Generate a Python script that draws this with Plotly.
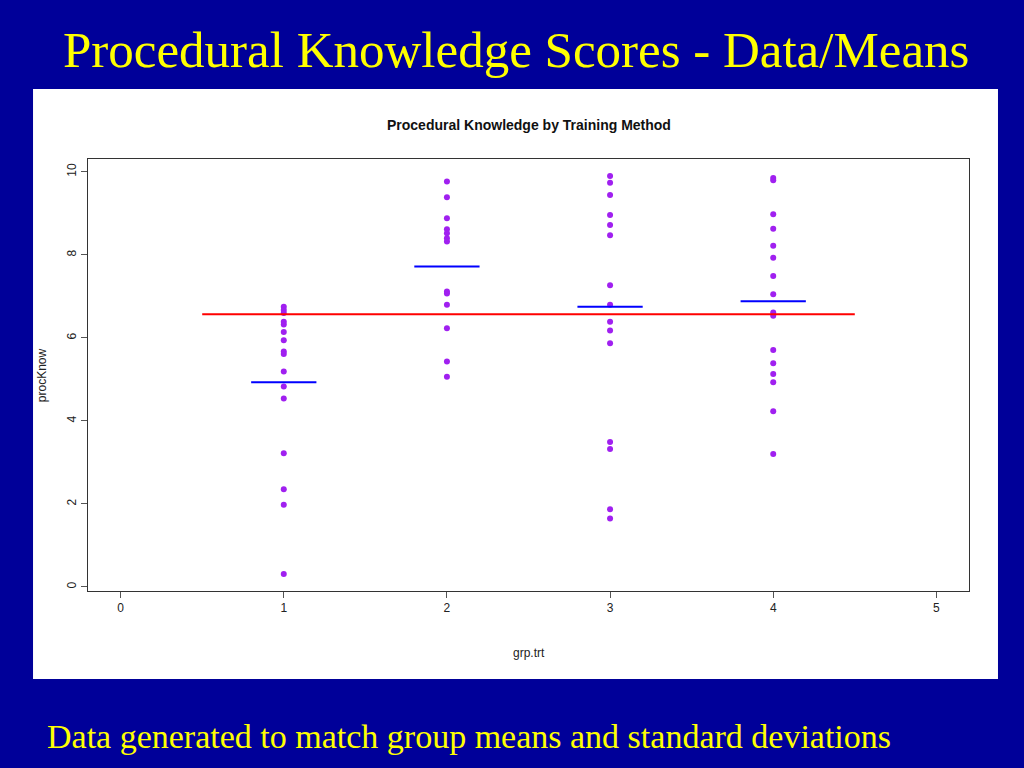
import plotly.graph_objects as go

# group scores
grp1 = [6.75, 6.67, 6.60, 6.39, 6.32, 6.14, 5.94, 5.67, 5.61, 5.19, 4.83, 4.54, 3.22, 2.35, 1.98, 0.31]
grp2 = [9.77, 9.39, 8.88, 8.62, 8.52, 8.40, 8.32, 7.12, 7.07, 6.80, 6.23, 5.43, 5.06]
grp3 = [9.90, 9.74, 9.44, 8.96, 8.72, 8.47, 7.27, 6.80, 6.39, 6.18, 5.87, 3.49, 3.32, 1.87, 1.65]
grp4 = [9.85, 9.80, 8.98, 8.63, 8.22, 7.93, 7.49, 7.05, 6.61, 6.53, 5.71, 5.39, 5.13, 4.93, 4.23, 3.20]

groups = [1, 2, 3, 4]
group_means = [4.93, 7.72, 6.75, 6.88]
grand_mean = 6.57

x_ticks = [0, 1, 2, 3, 4, 5]
y_ticks = [0, 2, 4, 6, 8, 10]

BG = "#000099"
YELLOW = "#FFFF00"

fig = go.Figure()

for g, vals in zip(groups, [grp1, grp2, grp3, grp4]):
    fig.add_trace(go.Scatter(
        x=[g] * len(vals), y=vals, mode="markers",
        marker=dict(color="#A020F0", size=6, line=dict(width=0)),
        showlegend=False,
    ))

# group means (blue) and grand mean (red)
for g, m in zip(groups, group_means):
    fig.add_trace(go.Scatter(
        x=[g - 0.2, g + 0.2], y=[m, m], mode="lines",
        line=dict(color="#0000FF", width=2), showlegend=False,
    ))
fig.add_trace(go.Scatter(
    x=[0.5, 4.5], y=[grand_mean, grand_mean], mode="lines",
    line=dict(color="#FF0000", width=2), showlegend=False,
))

axis_common = dict(
    showgrid=False, zeroline=False, showline=True, mirror=True,
    linecolor="#333333", linewidth=1, ticks="outside", ticklen=6,
    tickcolor="#555555", tickfont=dict(family="Liberation Sans", size=12, color="#222222"),
)

fig.update_layout(
    width=1024, height=768,
    paper_bgcolor=BG, plot_bgcolor="white",
    margin=dict(l=88, r=55, t=159, b=177),
    xaxis=dict(range=[-0.2, 5.2], tickvals=x_ticks, **axis_common),
    yaxis=dict(range=[-0.1, 10.31], tickvals=y_ticks, tickangle=-90, **axis_common),
    shapes=[dict(type="rect", xref="paper", yref="paper",
                 x0=-0.0624, x1=1.0329, y0=-0.2037, y1=1.162,
                 fillcolor="white", line=dict(width=0), layer="below")],
)

# slide title and footnote
fig.add_annotation(text="Procedural Knowledge Scores - Data/Means",
                   xref="paper", yref="paper", x=0.486, y=1.252,
                   xanchor="center", yanchor="middle", showarrow=False,
                   font=dict(family="Liberation Serif", size=51, color=YELLOW))
fig.add_annotation(text="Data generated to match group means and standard deviations",
                   xref="paper", yref="paper", x=-0.0488, y=-0.336,
                   xanchor="left", yanchor="middle", showarrow=False,
                   font=dict(family="Liberation Serif", size=34, color=YELLOW))

# R-style plot labels
fig.add_annotation(text="<b>Procedural Knowledge by Training Method</b>",
                   xref="paper", yref="paper", x=0.5, y=1.078,
                   xanchor="center", yanchor="middle", showarrow=False,
                   font=dict(family="Liberation Sans", size=14, color="#111111"))
fig.add_annotation(text="grp.trt", xref="paper", yref="paper", x=0.5, y=-0.143,
                   xanchor="center", yanchor="middle", showarrow=False,
                   font=dict(family="Liberation Sans", size=12, color="#222222"))
fig.add_annotation(text="procKnow", xref="paper", yref="paper", x=-0.052, y=0.5,
                   xanchor="center", yanchor="middle", showarrow=False, textangle=-90,
                   font=dict(family="Liberation Sans", size=12, color="#222222"))

fig.write_html("out.html", config={"displayModeBar": False},
               post_script="document.body.style.margin='0';")
